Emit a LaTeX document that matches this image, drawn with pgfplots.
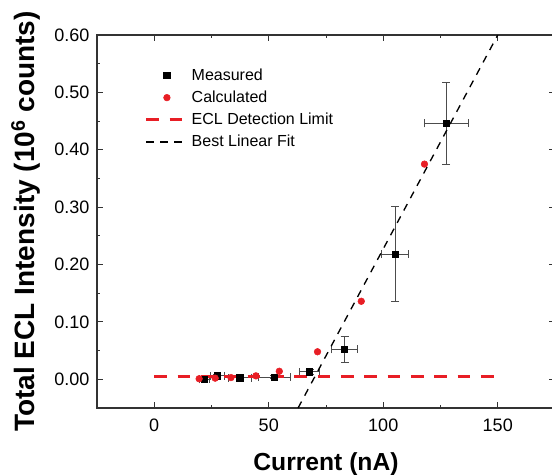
\documentclass[border=0pt]{standalone}
\usepackage{fontspec}
\setmainfont{Liberation Sans}
\usepackage{pgfplots}
\usepackage{pgfplotstable}
\pgfplotsset{compat=1.18}
\definecolor{eclred}{RGB}{232,30,37}

\pgfplotsset{
  markleg/.style={legend image code/.code={\draw[mark repeat=2,mark phase=2,##1] plot coordinates {(0pt,0pt)(15.5pt,0pt)(31pt,0pt)};}},
  lineleg/.style={legend image code/.code={\draw[##1] (0pt,0pt) -- (31pt,0pt);}},
}

% measured ECL intensity with error bars
\pgfplotstableread{
x     y      ex   ey
21.9  0.000  2.0  0.002
27.5  0.006  3.0  0.003
37.3  0.003  5.0  0.002
52.5  0.004  7.0  0.003
67.8  0.013  4.5  0.005
83.1  0.052  5.8  0.022
105.2 0.218  5.8  0.083
127.5 0.446  9.6  0.072
}\measured

% calculated values
\pgfplotstableread{
x     y
19.6  0.001
26.6  0.002
33.5  0.003
44.4  0.006
54.6  0.014
71.3  0.048
90.4  0.136
118.0 0.375
}\calculated

\begin{document}
\begin{tikzpicture}
\begin{axis}[
  name=ax,
  scale only axis,
  width=343.5pt, height=279.75pt,
  xmin=-25, xmax=175,
  ymin=-0.05, ymax=0.6,
  xtick={0,50,100,150},
  ytick={0,0.1,0.2,0.3,0.4,0.5,0.6},
  minor x tick num=1,
  minor y tick num=1,
  major tick length=4.5pt,
  minor tick length=2.5pt,
  axis line style={black!80, line width=0.9pt},
  every tick/.style={black!80, line width=0.7pt},
  /pgf/number format/assume math mode=true,
  tick label style={font=\fontsize{13.5}{15}\selectfont},
  yticklabel style={/pgf/number format/.cd, fixed, fixed zerofill, precision=2, /tikz/.cd, xshift=-2.2pt},
  xticklabel style={yshift=-4.5pt},
  xlabel={Current (nA)},
  ylabel={Total ECL Intensity (10\textsuperscript{6} counts)},
  every axis x label/.style={at={(axis description cs:0.5,0)}, anchor=base, yshift=-46.5pt, font=\fontsize{18.5}{22}\selectfont\bfseries},
  every axis y label/.style={at={(axis description cs:0,0.5)}, rotate=90, anchor=base, yshift=46.5pt, font=\fontsize{21}{25}\selectfont\bfseries},
  legend style={draw=none, fill=none, at={(axis description cs:0.095,0.925)}, anchor=north west,
    font=\fontsize{12}{14}\selectfont, row sep=2.5pt,
    /tikz/every even column/.append style={column sep=3pt}},
  legend cell align=left,
]
\addplot[only marks, mark=square*, mark size=2.4pt, black, markleg,
  error bars/.cd, x dir=both, x explicit, y dir=both, y explicit,
  error bar style={black!70, line width=0.6pt},
  error mark options={rotate=90, black!70, mark size=3pt, line width=0.6pt}]
  table[x=x, y=y, x error=ex, y error=ey] {\measured};
\addlegendentry{Measured}

\addplot[only marks, mark=*, mark size=2.5pt, eclred, mark options={draw=eclred, fill=eclred}, markleg]
  table[x=x, y=y] {\calculated};
\addlegendentry{Calculated}

\addplot[eclred, line width=2.2pt, dash pattern=on 9.5pt off 8pt, lineleg]
  coordinates {(0,0.005) (150,0.005)};
\addlegendentry{ECL Detection Limit}

\addplot[black, line width=1pt, dash pattern=on 5.5pt off 5pt, lineleg]
  coordinates {(62.8,-0.05) (150,0.600)};
\addlegendentry{Best Linear Fit}
\end{axis}
\pgfresetboundingbox
\path[use as bounding box] ([xshift=-72.75pt,yshift=-49.5pt]ax.south west) rectangle ([xshift=-2.25pt,yshift=26.25pt]ax.north east);
\end{tikzpicture}
\end{document}
